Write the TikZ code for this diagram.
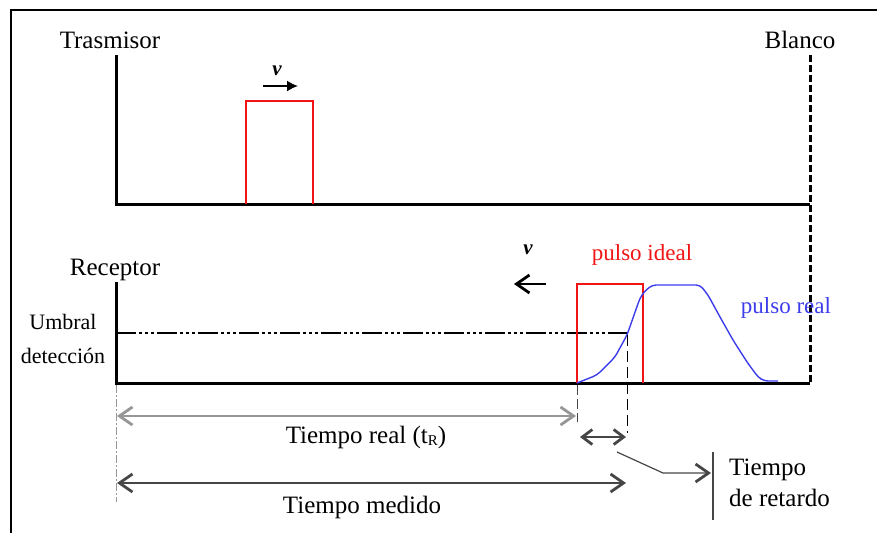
\documentclass[tikz,border=0pt]{standalone}
\usepackage{fontspec}
\setmainfont{Liberation Serif}
\usetikzlibrary{arrows.meta}
\definecolor{pred}{RGB}{240,20,20}
\definecolor{pblue}{RGB}{60,60,235}
\definecolor{lgray}{RGB}{150,150,150}
\definecolor{dgray}{RGB}{70,70,70}
\tikzset{
  axis/.style={line width=3pt},
  pulse/.style={draw=pred,line width=1.5pt},
  lbl/.style={inner sep=0pt,font=\fontsize{25}{28}\selectfont},
  smalllbl/.style={inner sep=0pt,font=\fontsize{22}{34}\selectfont,align=center},
  plbl/.style={inner sep=0pt,font=\fontsize{23}{26}\selectfont},
  vlbl/.style={inner sep=0pt,font=\bfseries\itshape\fontsize{21}{22}\selectfont},
  chev/.tip={Straight Barb[length=13pt,width=18pt,line width=2.8pt]},
  schev/.tip={Straight Barb[length=10pt,width=15pt,line width=2.8pt]},
  dimarrow/.style={line width=1.5pt,chev-chev},
}
\begin{document}
\begin{tikzpicture}[x=1pt,y=-1pt]
\useasboundingbox (0,0) rectangle (877,533);
% frame
\draw[line width=1.5pt] (11,533) -- (11,10) -- (877,10);
% transmitter axes
\coordinate (t0) at (116,55);
\coordinate (tO) at (116,204);
\coordinate (tE) at (810,204);
\draw[axis] (t0) -- (tO) -- (tE);
\node[lbl] (tras) at (110,40) {Trasmisor};
\node[lbl] (blanco) at (800,40) {Blanco};
% target dashed line
\coordinate (b0) at (810,55);
\coordinate (b1) at (810,383);
\draw[line width=3pt,dash pattern=on 7pt off 3pt] (b0) -- (b1);
% transmitted pulse
\draw[pulse] (246,204) -- (246,101) -- (313,101) -- (313,204);
\node[vlbl] (v1) at (277,71) {v};
\coordinate (v1a) at (263,86);
\coordinate (v1b) at (298,86);
\draw[line width=1.8pt,-{Latex[length=11pt,width=11pt]}] (v1a) -- (v1b);
% receiver axes
\coordinate (r0) at (116,282);
\coordinate (rO) at (116,383);
\coordinate (rE) at (810,383);
\draw[axis] (r0) -- (rO) -- (rE);
\node[lbl] (rec) at (115,270) {Receptor};
\node[smalllbl] (umb) at (63,339) {Umbral\\detección};
% threshold
\coordinate (th0) at (116,333);
\coordinate (th1) at (627,333);
\draw[line width=1.3pt,dash pattern=on 20pt off 3pt on 3pt off 3pt on 3pt off 3pt on 3pt off 3pt] (th0) -- (th1);
% ideal pulse
\draw[pulse] (577,383) -- (577,284) -- (643,284) -- (643,383);
\node[plbl,text=pred] (pid) at (642,255) {pulso ideal};
% real pulse
\draw[pblue,line width=1.4pt,rounded corners=4pt] (577,383) -- (597,375) -- (615,357) -- (627,335) -- (640,298) -- (644,292) -- (652,285) -- (700,285) -- (708,295) -- (720,317) -- (733,340) -- (747,362) -- (758,377) -- (764,381) -- (778,381);
\node[plbl,text=pblue] (prl) at (786,308) {pulso real};
% receiving v arrow
\node[vlbl] (v2) at (528,250) {v};
\coordinate (v2a) at (546,284);
\coordinate (v2b) at (514,284);
\draw[line width=1.6pt,-chev] (v2a) -- (v2b);
% reference verticals
\coordinate (x0a) at (116,385);
\coordinate (x0b) at (116,502);
\draw[lgray,line width=1pt,dash pattern=on 8pt off 2pt on 2pt off 2pt] (x0a) -- (x0b);
\coordinate (x1a) at (577,385);
\coordinate (x1b) at (577,422);
\draw[dgray,line width=1pt,dash pattern=on 10pt off 4pt] (x1a) -- (x1b);
\coordinate (x2a) at (627,335);
\coordinate (x2b) at (627,433);
\draw[black,line width=1pt,dash pattern=on 11pt off 5pt] (x2a) -- (x2b);
% Tiempo real
\coordinate (ra) at (117,416);
\coordinate (rb) at (576,416);
\draw[lgray,dimarrow] (ra) -- (rb);
\node[lbl] (treal) at (366,437) {Tiempo real (t\raisebox{-2pt}{\fontsize{15}{16}\selectfont R})};
% small delay arrow
\coordinate (da) at (580,437);
\coordinate (db) at (626,437);
\draw[dgray,line width=1.3pt,schev-schev] (da) -- (db);
% Tiempo medido
\coordinate (ma) at (117,483);
\coordinate (mb) at (626,483);
\draw[dgray,dimarrow,line width=2pt] (ma) -- (mb);
\node[lbl] (tmed) at (362,507) {Tiempo medido};
% leader to label
\coordinate (la) at (617,452);
\coordinate (lb) at (663,473);
\coordinate (lc) at (711,473);
\draw[dgray,line width=1.2pt,-chev] (la) -- (lb) -- (lc);
\coordinate (bar0) at (713,452);
\coordinate (bar1) at (713,520);
\draw[dgray,line width=1.3pt] (bar0) -- (bar1);
\node[lbl,anchor=west] (tret1) at (729,470) {Tiempo};
\node[lbl,anchor=west] (tret2) at (729,498) {de retardo};
\end{tikzpicture}
\end{document}
